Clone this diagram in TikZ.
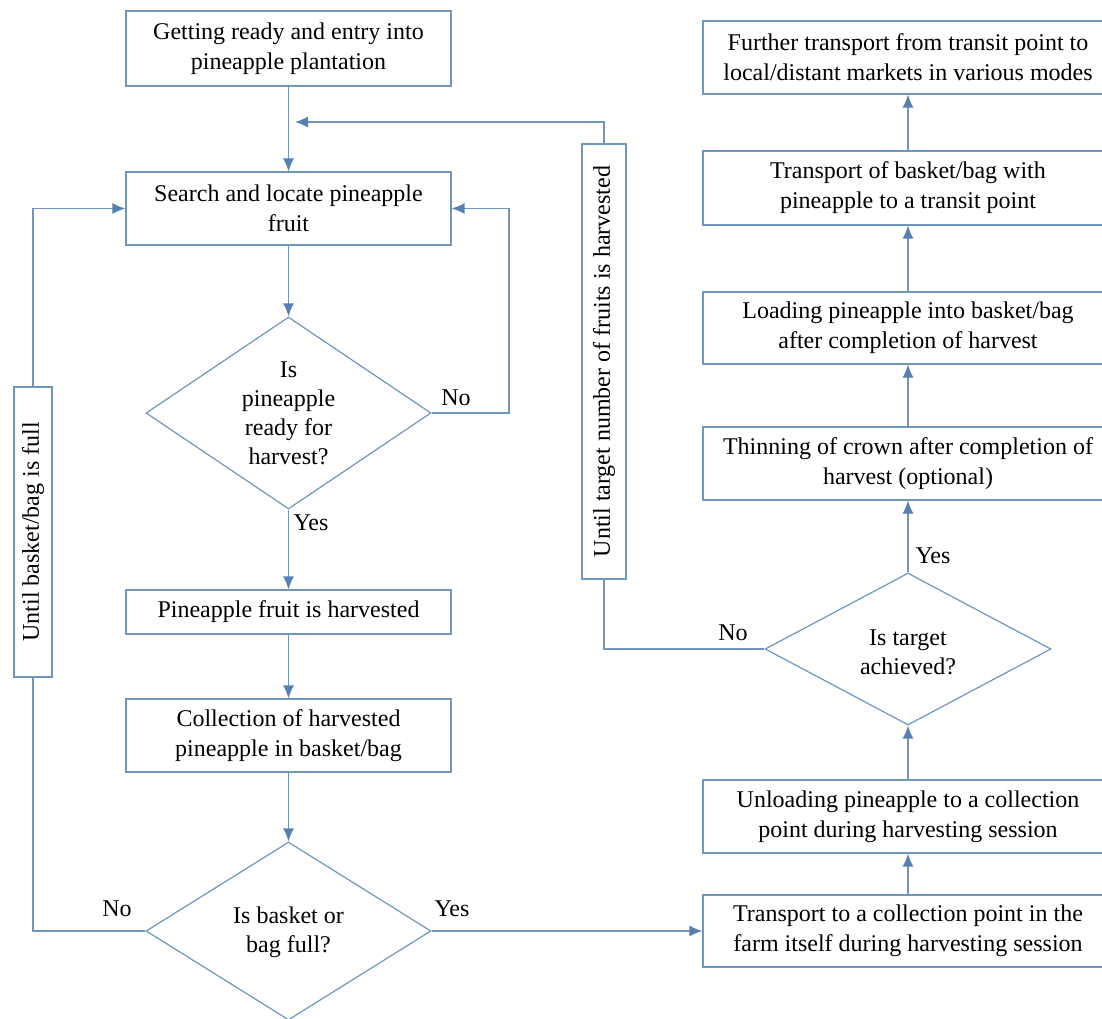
\documentclass[tikz,border=0pt]{standalone}
\usepackage{fontspec}
\setmainfont{Liberation Serif}
\usetikzlibrary{shapes.geometric,arrows.meta}
\definecolor{lc}{RGB}{112,150,190}
\definecolor{ac}{RGB}{86,128,178}
\begin{document}
\begin{tikzpicture}[x=1pt,y=-1pt,
  font=\fontsize{24}{30}\selectfont,
  box/.style={draw=lc, line width=1.2pt, rectangle, inner sep=0pt, align=center},
  dia/.style={draw=lc, line width=1.2pt, diamond, inner sep=0pt},
  conn/.style={draw=lc, line width=1.4pt},
  arr/.style={conn, -{Latex[length=13pt,width=11pt,color=ac]}},
  lbl/.style={inner sep=0pt, align=center},
  dtxt/.style={inner sep=0pt, align=center, font=\fontsize{24}{29}\selectfont}]
\useasboundingbox (0,0) rectangle (1102,1019);
\clip (0,0) rectangle (1102,1019);
\fill[white] (0,0) rectangle (1102,1019);

% left column
\node[box, minimum width=325pt, minimum height=75pt] (b1) at (288.5,48.5) {Getting ready and entry into\\pineapple plantation};
\node[box, minimum width=325pt, minimum height=73pt] (b2) at (288.5,208.5) {Search and locate pineapple\\fruit};
\node[dia, minimum width=285pt, minimum height=192pt] (d1) at (288.5,413) {};
\node[dtxt] (d1t) at (288.5,413) {Is\\pineapple\\ready for\\harvest?};
\node[box, minimum width=325pt, minimum height=44pt] (b3) at (288.5,612) {Pineapple fruit is harvested};
\node[box, minimum width=325pt, minimum height=73pt] (b4) at (288.5,735.5) {Collection of harvested\\pineapple in basket/bag};
\node[dia, minimum width=285pt, minimum height=178pt] (d2) at (288.5,931) {};
\node[dtxt] (d2t) at (288.5,932) {Is basket or\\bag full?};

% loop boxes
\node[box, rotate=90, minimum width=290pt, minimum height=38pt] (lb) at (33,532) {Until basket/bag is full};
\node[box, rotate=90, minimum width=435pt, minimum height=44pt] (mb) at (604,361.5) {Until target number of fruits is harvested};

% right column
\node[box, minimum width=410pt, minimum height=73pt] (r1) at (908,57.5) {Further transport from transit point to\\local/distant markets in various modes};
\node[box, minimum width=410pt, minimum height=74pt] (r2) at (908,188) {Transport of basket/bag with\\pineapple to a transit point};
\node[box, minimum width=410pt, minimum height=72pt] (r3) at (908,328) {Loading pineapple into basket/bag\\after completion of harvest};
\node[box, minimum width=410pt, minimum height=73pt] (r4) at (908,463.5) {Thinning of crown after completion of\\harvest (optional)};
\node[dia, minimum width=286pt, minimum height=152pt] (dR) at (908,649) {};
\node[dtxt] (dRt) at (908,652) {Is target\\achieved?};
\node[box, minimum width=410pt, minimum height=73pt] (r5) at (908,816.5) {Unloading pineapple to a collection\\point during harvesting session};
\node[box, minimum width=410pt, minimum height=72pt] (r6) at (908,931) {Transport to a collection point in the\\farm itself during harvesting session};

% connectors
\draw[arr] (b1) -- (b2);
\draw[arr] (b2) -- (d1);
\draw[arr] (d1) -- (b3);
\draw[arr] (b3) -- (b4);
\draw[arr] (b4) -- (d2);
\draw[conn] (d2.west) -| (lb);
\draw[arr] (lb) |- (b2);
\coordinate (nr) at (509,413);
\draw[arr] (d1.east) -- (nr) |- (b2.east);
\draw[arr] (d2.east) -- (r6.west);
\draw[arr] (r6) -- (r5);
\draw[arr] (r5) -- (dR);
\draw[arr] (dR) -- (r4);
\draw[arr] (r4) -- (r3);
\draw[arr] (r3) -- (r2);
\draw[arr] (r2) -- (r1);
\draw[conn] (dR.west) -| (mb);
\coordinate (jn) at (295,122);
\draw[arr] (mb) |- (jn);

% labels
\node[lbl] (l1) at (456,398) {No};
\node[lbl] (l2) at (311,523) {Yes};
\node[lbl] (l3) at (117,909) {No};
\node[lbl] (l4) at (452,909) {Yes};
\node[lbl] (l5) at (733,633) {No};
\node[lbl] (l6) at (933,556) {Yes};
\end{tikzpicture}
\end{document}
